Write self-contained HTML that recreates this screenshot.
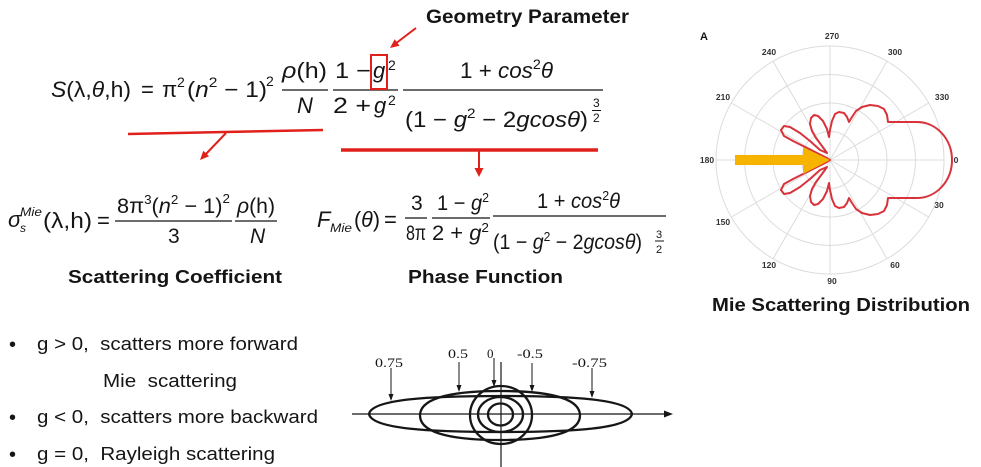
<!DOCTYPE html>
<html>
<head>
<meta charset="utf-8">
<style>
  html, body { margin:0; padding:0; background:#fff; }
  svg { display:block; }
  text { font-family:"Liberation Sans", sans-serif; fill:#151515; }
  .it { font-style:italic; }
  .b { font-weight:bold; }
  .serif { font-family:"Liberation Serif", serif; }
  .pl { font-size:8.5px; fill:#333; font-weight:bold; }
</style>
</head>
<body>
<svg width="981" height="467" viewBox="0 0 981 467" xmlns="http://www.w3.org/2000/svg">
  <rect width="981" height="467" fill="#fff"/>

  <!-- ========== TOP FORMULA ========== -->
  <text x="426" y="23" class="b" font-size="19" textLength="203" lengthAdjust="spacingAndGlyphs">Geometry Parameter</text>
  <line x1="416" y1="28" x2="395" y2="44" stroke="#e0201b" stroke-width="2"/>
  <polygon points="390,48 399.5,45.7 394.7,39.3" fill="#e0201b"/>

  <g font-size="22">
    <text x="51" y="97" textLength="80" lengthAdjust="spacingAndGlyphs"><tspan class="it">S</tspan>(λ,<tspan class="it">θ</tspan>,h)</text>
    <text x="141" y="97">=</text>
    <text x="162" y="97">π</text>
    <text x="177" y="87" font-size="14">2</text>
    <text x="187" y="97" textLength="80" lengthAdjust="spacingAndGlyphs">(<tspan class="it">n</tspan><tspan font-size="14" dy="-10">2</tspan><tspan dy="10"> − 1)</tspan></text>
    <text x="266" y="86" font-size="14">2</text>

    <text x="282" y="78" textLength="45" lengthAdjust="spacingAndGlyphs"><tspan class="it">ρ</tspan>(h)</text>
    <line x1="282" y1="90" x2="328" y2="90" stroke="#151515" stroke-width="1.3"/>
    <text x="297" y="113" class="it">N</text>

    <text x="335" y="78" textLength="36" lengthAdjust="spacingAndGlyphs">1 −</text>
    <text x="373" y="78" class="it">g</text>
    <text x="388" y="70" font-size="14">2</text>
    <line x1="333" y1="90" x2="398" y2="90" stroke="#151515" stroke-width="1.3"/>
    <text x="333" y="113" textLength="38" lengthAdjust="spacingAndGlyphs">2 +</text>
    <text x="374" y="113" class="it">g</text>
    <text x="388" y="105" font-size="14">2</text>

    <text x="460" y="78" textLength="93" lengthAdjust="spacingAndGlyphs">1 + <tspan class="it">cos</tspan><tspan font-size="14" dy="-9">2</tspan><tspan class="it" dy="9">θ</tspan></text>
    <line x1="403" y1="90" x2="603" y2="90" stroke="#151515" stroke-width="1.3"/>
    <text x="405" y="127" textLength="183" lengthAdjust="spacingAndGlyphs">(1 − <tspan class="it">g</tspan><tspan font-size="14" dy="-9">2</tspan><tspan dy="9"> − 2</tspan><tspan class="it">gcosθ</tspan>)</text>
    <text x="593" y="107" font-size="12">3</text>
    <line x1="592" y1="110.5" x2="601" y2="110.5" stroke="#151515" stroke-width="1"/>
    <text x="593" y="122" font-size="12">2</text>
  </g>
  <rect x="371" y="55" width="16" height="34" fill="none" stroke="#e0201b" stroke-width="2"/>

  <line x1="128" y1="134" x2="323" y2="130" stroke="#e0201b" stroke-width="2.5"/>
  <line x1="226" y1="133" x2="205" y2="155" stroke="#e0201b" stroke-width="2"/>
  <polygon points="200,160 209.1,156.3 203.3,150.7" fill="#e0201b"/>

  <line x1="341" y1="150" x2="598" y2="150" stroke="#e0201b" stroke-width="3.5"/>
  <line x1="479" y1="151" x2="479" y2="169" stroke="#e0201b" stroke-width="2"/>
  <polygon points="479,177 474.5,168 483.5,168" fill="#e0201b"/>

  <!-- ========== SCATTERING COEFFICIENT FORMULA ========== -->
  <g font-size="21">
    <text x="8" y="227" class="it" font-size="22">σ</text>
    <text x="20" y="216" class="it" font-size="12" textLength="22" lengthAdjust="spacingAndGlyphs">Mie</text>
    <text x="20" y="232" class="it" font-size="12">s</text>
    <text x="43" y="228" font-size="22" textLength="49" lengthAdjust="spacingAndGlyphs">(λ,h)</text>
    <text x="97" y="228" font-size="22">=</text>
    <text x="117" y="213" textLength="113" lengthAdjust="spacingAndGlyphs">8π<tspan font-size="13" dy="-9">3</tspan><tspan dy="9">(</tspan><tspan class="it">n</tspan><tspan font-size="13" dy="-9">2</tspan><tspan dy="9"> − 1)</tspan><tspan font-size="13" dy="-10">2</tspan></text>
    <line x1="115" y1="221" x2="232" y2="221" stroke="#151515" stroke-width="1.3"/>
    <text x="168" y="243">3</text>
    <text x="237" y="213" textLength="38" lengthAdjust="spacingAndGlyphs"><tspan class="it">ρ</tspan>(h)</text>
    <line x1="235" y1="221" x2="277" y2="221" stroke="#151515" stroke-width="1.3"/>
    <text x="250" y="243" class="it">N</text>
  </g>
  <text x="68" y="283" class="b" font-size="18" textLength="214" lengthAdjust="spacingAndGlyphs">Scattering Coefficient</text>

  <!-- ========== PHASE FUNCTION FORMULA ========== -->
  <g font-size="21">
    <text x="317" y="227" class="it" font-size="22">F</text>
    <text x="330" y="232" class="it" font-size="12" textLength="22" lengthAdjust="spacingAndGlyphs">Mie</text>
    <text x="354" y="227" font-size="22" textLength="26" lengthAdjust="spacingAndGlyphs">(<tspan class="it">θ</tspan>)</text>
    <text x="384" y="227" font-size="22">=</text>
    <text x="411" y="210">3</text>
    <line x1="405" y1="218" x2="427" y2="218" stroke="#151515" stroke-width="1.3"/>
    <text x="406" y="240" textLength="20" lengthAdjust="spacingAndGlyphs">8π</text>
    <text x="437" y="210" textLength="52" lengthAdjust="spacingAndGlyphs">1 − <tspan class="it">g</tspan><tspan font-size="13" dy="-8">2</tspan></text>
    <line x1="432" y1="218" x2="490" y2="218" stroke="#151515" stroke-width="1.3"/>
    <text x="432" y="240" textLength="57" lengthAdjust="spacingAndGlyphs">2 + <tspan class="it">g</tspan><tspan font-size="13" dy="-8">2</tspan></text>
    <text x="537" y="208" textLength="83" lengthAdjust="spacingAndGlyphs">1 + <tspan class="it">cos</tspan><tspan font-size="13" dy="-8">2</tspan><tspan class="it" dy="8">θ</tspan></text>
    <line x1="493" y1="216" x2="666" y2="216" stroke="#151515" stroke-width="1.3"/>
    <text x="493" y="249" textLength="149" lengthAdjust="spacingAndGlyphs">(1 − <tspan class="it">g</tspan><tspan font-size="13" dy="-8">2</tspan><tspan dy="8"> − 2</tspan><tspan class="it">gcosθ</tspan>)</text>
    <text x="656" y="238" font-size="11">3</text>
    <line x1="655" y1="241" x2="664" y2="241" stroke="#151515" stroke-width="1"/>
    <text x="656" y="253" font-size="11">2</text>
  </g>
  <text x="408" y="283" class="b" font-size="18" textLength="155" lengthAdjust="spacingAndGlyphs">Phase Function</text>

  <!-- ========== POLAR PLOT ========== -->
  <text x="700" y="40" class="b" font-size="11">A</text>
  <g stroke="#dcdcdc" stroke-width="1" fill="none">
    <circle cx="830" cy="160" r="28.5"/>
    <circle cx="830" cy="160" r="57"/>
    <circle cx="830" cy="160" r="85.5"/>
    <circle cx="830" cy="160" r="114"/>
    <line x1="830" y1="160" x2="944" y2="160"/>
    <line x1="830" y1="160" x2="928.7" y2="217"/>
    <line x1="830" y1="160" x2="887" y2="258.7"/>
    <line x1="830" y1="160" x2="830" y2="274"/>
    <line x1="830" y1="160" x2="773" y2="258.7"/>
    <line x1="830" y1="160" x2="731.3" y2="217"/>
    <line x1="830" y1="160" x2="716" y2="160"/>
    <line x1="830" y1="160" x2="731.3" y2="103"/>
    <line x1="830" y1="160" x2="773" y2="61.3"/>
    <line x1="830" y1="160" x2="830" y2="46"/>
    <line x1="830" y1="160" x2="887" y2="61.3"/>
    <line x1="830" y1="160" x2="928.7" y2="103"/>
  </g>
  <g text-anchor="middle">
    <text class="pl" x="956" y="163">0</text>
    <text class="pl" x="939" y="208">30</text>
    <text class="pl" x="895" y="268">60</text>
    <text class="pl" x="832" y="284">90</text>
    <text class="pl" x="769" y="268">120</text>
    <text class="pl" x="723" y="225">150</text>
    <text class="pl" x="707" y="163">180</text>
    <text class="pl" x="723" y="100">210</text>
    <text class="pl" x="769" y="55">240</text>
    <text class="pl" x="832" y="39">270</text>
    <text class="pl" x="895" y="55">300</text>
    <text class="pl" x="942" y="100">330</text>
  </g>
  <path fill="none" stroke="#d8333a" stroke-width="2" stroke-linejoin="round"
    d="M952,160 A35,38 0 0 0 917,122 L888,122
       L887,115 L884,109 L878,106 L870,105 L862,107 L856,111 L852,117 L849,122 L847,117 L844,113 L839,112 L835,114 L832,121 L830,130 L829,137
       L827,129 L823,121 L818,116 L814,115 L811,118 L810,124 L812,131 L816,138 L822,146 L827,153
       L820,150 L810,141 L800,133 L790,127 L784,126 L781,130 L784,136 L793,141 L803,146 L815,152 L825,157 L830,160
       L825,163 L815,168 L803,174 L793,179 L784,184 L781,190 L784,194 L790,193 L800,187 L810,179 L820,170 L827,167
       L822,174 L816,182 L812,189 L810,196 L811,202 L814,205 L818,204 L823,199 L827,191 L829,183
       L830,190 L832,199 L835,206 L839,208 L844,207 L847,203 L849,198 L852,203 L856,209 L862,213 L870,215 L878,214 L884,211 L887,205 L888,198
       L917,198 A35,38 0 0 0 952,160 Z"/>
  <rect x="735" y="155" width="69" height="10" fill="#f6b300"/>
  <polygon points="803,147 830,160 803,174" fill="#f6b300"/>
  <text x="712" y="311" class="b" font-size="18" textLength="258" lengthAdjust="spacingAndGlyphs">Mie Scattering Distribution</text>

  <!-- ========== BULLETS ========== -->
  <g font-size="18">
    <text x="9" y="351" font-size="20">•</text>
    <text x="37" y="350" textLength="261" lengthAdjust="spacingAndGlyphs" xml:space="preserve">g &gt; 0,  scatters more forward</text>
    <text x="103" y="387" textLength="134" lengthAdjust="spacingAndGlyphs" xml:space="preserve">Mie  scattering</text>
    <text x="9" y="424" font-size="20">•</text>
    <text x="37" y="423" textLength="281" lengthAdjust="spacingAndGlyphs" xml:space="preserve">g &lt; 0,  scatters more backward</text>
    <text x="9" y="461" font-size="20">•</text>
    <text x="37" y="460" textLength="238" lengthAdjust="spacingAndGlyphs" xml:space="preserve">g = 0,  Rayleigh scattering</text>
  </g>

  <!-- ========== ELLIPSE DIAGRAM ========== -->
  <g stroke="#161616" fill="none">
    <line x1="352" y1="414" x2="668" y2="414" stroke-width="1.2"/>
    <line x1="501" y1="362" x2="501" y2="467" stroke-width="1.2"/>
    <path stroke-width="2.3" d="M369,414 C372,399 430,396 500.5,396 C571,396 629,399 632,414 C629,429 571,432 500.5,432 C430,432 372,429 369,414 Z"/>
    <path stroke-width="2.3" d="M420,415.5 C420,396 460,391 500,391 C540,391 580,396 580,415.5 C580,435 540,440 500,440 C460,440 420,435 420,415.5 Z"/>
    <ellipse cx="501" cy="415" rx="31" ry="29" stroke-width="2.3"/>
    <ellipse cx="500.5" cy="414.5" rx="22.5" ry="17.5" stroke-width="2.3"/>
    <ellipse cx="500.5" cy="414.5" rx="12.5" ry="11" stroke-width="2.3"/>
    <line x1="391" y1="368" x2="391" y2="396" stroke-width="1"/>
    <line x1="459" y1="362" x2="459" y2="388" stroke-width="1"/>
    <line x1="494" y1="358" x2="494" y2="383" stroke-width="1"/>
    <line x1="532" y1="363" x2="532" y2="388" stroke-width="1"/>
    <line x1="592" y1="368" x2="592" y2="394" stroke-width="1"/>
  </g>
  <g fill="#161616">
    <polygon points="673,414 664,410.5 664,417.5"/>
    <polygon points="391,401 388.5,394 393.5,394"/>
    <polygon points="459,392 456.5,385 461.5,385"/>
    <polygon points="494,387 491.5,380 496.5,380"/>
    <polygon points="532,392 529.5,385 534.5,385"/>
    <polygon points="592,398 589.5,391 594.5,391"/>
  </g>
  <g font-size="13">
    <text class="serif" x="375" y="367" textLength="28" lengthAdjust="spacingAndGlyphs">0.75</text>
    <text class="serif" x="448" y="358" textLength="20" lengthAdjust="spacingAndGlyphs">0.5</text>
    <text class="serif" x="487" y="358">0</text>
    <text class="serif" x="517" y="358" textLength="26" lengthAdjust="spacingAndGlyphs">-0.5</text>
    <text class="serif" x="572" y="367" textLength="35" lengthAdjust="spacingAndGlyphs">-0.75</text>
  </g>
</svg>
</body>
</html>
